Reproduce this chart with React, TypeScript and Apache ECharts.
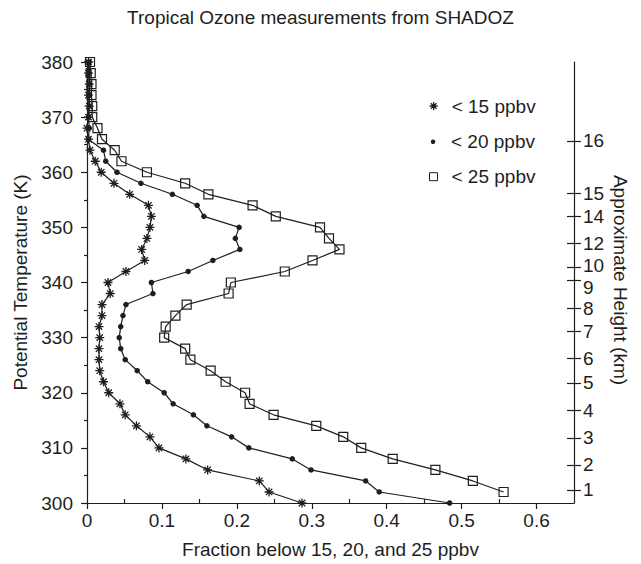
import React, { useEffect, useRef } from 'react';
import * as echarts from 'echarts';

// Potential temperature levels (K)
const thetaK = [
  300, 302, 304, 306, 308, 310, 312, 314, 316, 318,
  320, 322, 324, 326, 328, 330, 332, 334, 336, 338,
  340, 342, 344, 346, 348, 350, 352, 354, 356, 358,
  360, 362, 364, 366, 368, 370, 372, 374, 376, 378, 380,
];

// Fraction below 15 ppbv
const frac15 = [
  0.287, 0.243, 0.230, 0.161, 0.132, 0.096, 0.084, 0.066, 0.051, 0.044,
  0.029, 0.022, 0.017, 0.016, 0.016, 0.017, 0.016, 0.020, 0.020, 0.031,
  0.028, 0.052, 0.077, 0.073, 0.080, 0.084, 0.086, 0.082, 0.057, 0.036,
  0.019, 0.011, 0.004, 0.002, 0.000, 0.002, 0.003, 0.002, 0.003, 0.002, 0.002,
];

// Fraction below 20 ppbv
const frac20 = [
  0.484, 0.390, 0.372, 0.299, 0.274, 0.216, 0.193, 0.160, 0.142, 0.115,
  0.103, 0.081, 0.067, 0.051, 0.045, 0.043, 0.045, 0.048, 0.052, 0.088,
  0.086, 0.135, 0.168, 0.204, 0.198, 0.203, 0.156, 0.147, 0.114, 0.072,
  0.040, 0.025, 0.022, 0.002, 0.003, 0.002, 0.003, 0.003, 0.004, 0.003, 0.003,
];

// Fraction below 25 ppbv (no value at 300 K)
const frac25 = [
  null, 0.556, 0.515, 0.465, 0.408, 0.366, 0.342, 0.306, 0.249, 0.217,
  0.211, 0.185, 0.165, 0.138, 0.131, 0.103, 0.105, 0.118, 0.133, 0.189,
  0.192, 0.264, 0.301, 0.337, 0.323, 0.311, 0.252, 0.221, 0.162, 0.131,
  0.080, 0.046, 0.037, 0.020, 0.014, 0.007, 0.007, 0.006, 0.006, 0.005, 0.004,
];

const seriesNames = ['< 15 ppbv', '< 20 ppbv', '< 25 ppbv'];

// Approximate height (km) labels and their potential temperature positions (K)
const heightLabels = ['1', '2', '3', '4', '5', '6', '7', '8', '9', '10', '12', '14', '15', '16'];
const heightThetaK = [302.4, 306.9, 311.8, 316.8, 321.8, 326.2, 331.2, 335.3, 340.4, 342.7, 347.1, 352.0, 356.2, 365.7];

const xMajorTicks = [0, 0.1, 0.2, 0.3, 0.4, 0.5, 0.6];
const xMinorTicks = [0.05, 0.15, 0.25, 0.35, 0.45, 0.55];

const FONT = 'Liberation Sans, Arial, Helvetica, sans-serif';
const INK = '#1e1e1e';
const STAR = 'path://M5,0L5,10M0,5L10,5M1.46,1.46L8.54,8.54M1.46,8.54L8.54,1.46';

function toPairs(fr: (number | null)[]) {
  const out: number[][] = [];
  thetaK.forEach((k, i) => {
    const v = fr[i];
    if (v !== null && v !== undefined) out.push([v, k]);
  });
  return out;
}

export default function App() {
  const ref = useRef<HTMLDivElement>(null);

  useEffect(() => {
    if (!ref.current) return;
    const chart = echarts.init(ref.current, undefined, { renderer: 'svg' });

    const lineStyle = { color: INK, width: 1.2 };
    const labelText = { fontSize: 19, color: INK, fontFamily: FONT };

    const heightFormatter = (v: number) => {
      let best = 0;
      let bd = Infinity;
      heightThetaK.forEach((k, i) => {
        const d = Math.abs(k - v);
        if (d < bd) { bd = d; best = i; }
      });
      const t = heightLabels[best];
      if (t === '9') return `{lo|${t}}`;
      if (t === '10') return `{hi|${t}}`;
      return t;
    };

    const legendDefs = [
      { icon: STAR, w: 8, h: 8, left: 429, top: 96.5, pad: 9,
        itemStyle: { color: INK, borderColor: INK, borderWidth: 1.3 } },
      { icon: 'circle', w: 4.5, h: 4.5, left: 430.8, top: 132.2, pad: 10.7,
        itemStyle: { color: INK, borderColor: INK, borderWidth: 0 } },
      { icon: 'rect', w: 8, h: 8, left: 429, top: 167.2, pad: 9,
        itemStyle: { color: 'transparent', borderColor: INK, borderWidth: 1 } },
    ];

    const option: any = {
      animation: false,
      textStyle: { fontFamily: FONT },
      title: {
        text: 'Tropical Ozone measurements from SHADOZ',
        left: 'center',
        top: 8,
        padding: 0,
        textStyle: { fontSize: 19, fontWeight: 'normal', color: INK, fontFamily: FONT },
      },
      grid: { left: 87, right: 67, top: 62, bottom: 60 },
      xAxis: [
        {
          type: 'value', min: 0, max: 0.65, position: 'bottom',
          axisLine: { show: true, onZero: false, lineStyle },
          axisTick: { show: true, inside: false, length: 6, customValues: xMajorTicks, lineStyle },
          axisLabel: { customValues: xMajorTicks, margin: 8, ...labelText, formatter: (v: number) => String(v) },
          splitLine: { show: false },
          name: 'Fraction below 15, 20, and 25 ppbv',
          nameLocation: 'middle',
          nameGap: 37,
          nameTextStyle: labelText,
        },
        {
          type: 'value', min: 0, max: 0.65, position: 'bottom',
          axisLine: { show: false, onZero: false },
          axisTick: { show: true, inside: true, length: 4, customValues: xMinorTicks, lineStyle },
          axisLabel: { show: false },
          splitLine: { show: false },
        },
      ],
      yAxis: [
        {
          type: 'value', min: 300, max: 380, interval: 10, position: 'left',
          axisLine: { show: true, onZero: false, lineStyle },
          axisTick: { show: true, inside: false, length: 6, lineStyle },
          minorTick: { show: true, splitNumber: 2, length: 3, lineStyle },
          axisLabel: { margin: 14, ...labelText },
          splitLine: { show: false },
          name: 'Potential Temperature (K)',
          nameLocation: 'middle',
          nameGap: 53,
          nameTextStyle: labelText,
        },
        {
          type: 'value', min: 300, max: 380, position: 'right',
          axisLine: { show: true, onZero: false, lineStyle },
          axisTick: { show: true, inside: true, length: 7, customValues: heightThetaK, lineStyle },
          axisLabel: { show: false },
          splitLine: { show: false },
        },
        {
          type: 'value', min: 300, max: 380, position: 'right',
          axisLine: { show: false, onZero: false },
          axisTick: { show: true, inside: false, length: 7, customValues: heightThetaK, lineStyle },
          axisLabel: {
            customValues: heightThetaK, margin: 9, ...labelText,
            formatter: heightFormatter,
            rich: {
              lo: { padding: [14, 0, 0, 0], ...labelText },
              hi: { padding: [0, 0, 4, 0], ...labelText },
            },
          },
          splitLine: { show: false },
        },
      ],
      legend: seriesNames.map((name, i) => {
        const d = legendDefs[i];
        return {
          data: [{ name, icon: d.icon, itemStyle: d.itemStyle }],
          orient: 'vertical',
          left: d.left,
          top: d.top,
          padding: 0,
          itemWidth: d.w,
          itemHeight: d.h,
          selectedMode: false,
          textStyle: { ...labelText, padding: [0, 0, 0, d.pad] },
        };
      }),
      graphic: [
        {
          type: 'text',
          x: 620,
          y: 280,
          rotation: -Math.PI / 2,
          style: {
            text: 'Approximate Height (km)',
            fontSize: 19,
            fontFamily: FONT,
            fill: INK,
            align: 'center',
            verticalAlign: 'middle',
          },
        },
      ],
      series: [
        {
          name: seriesNames[0], type: 'line', xAxisIndex: 0, yAxisIndex: 0,
          data: toPairs(frac15), symbol: STAR, symbolSize: 9, clip: false,
          lineStyle, itemStyle: { color: INK, borderColor: INK, borderWidth: 1.3 },
        },
        {
          name: seriesNames[1], type: 'line', xAxisIndex: 0, yAxisIndex: 0,
          data: toPairs(frac20), symbol: 'circle', symbolSize: 5.5, clip: false,
          lineStyle, itemStyle: { color: INK, borderWidth: 0 },
        },
        {
          name: seriesNames[2], type: 'line', xAxisIndex: 0, yAxisIndex: 0,
          data: toPairs(frac25), symbol: 'rect', symbolSize: 9, clip: false,
          lineStyle, itemStyle: { color: 'transparent', borderColor: INK, borderWidth: 1.2 },
        },
      ],
    };

    chart.setOption(option);
    return () => chart.dispose();
  }, []);

  return (
    <div
      ref={ref}
      style={{ position: 'fixed', left: 0, top: 0, width: 641, height: 564, background: '#fff' }}
    />
  );
}
